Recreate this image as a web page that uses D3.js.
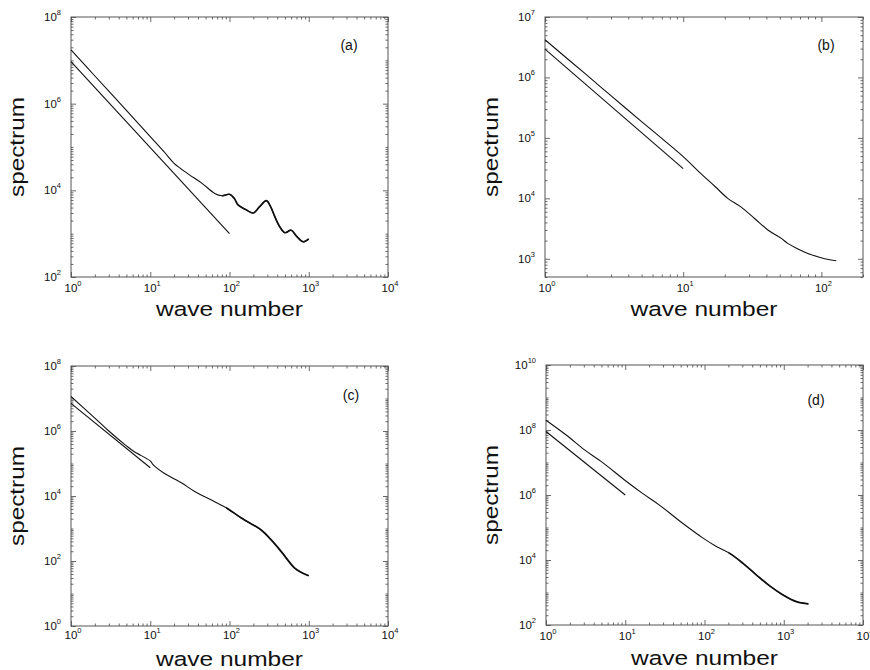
<!DOCTYPE html>
<html>
<head>
<meta charset="utf-8">
<script src="https://cdn.jsdelivr.net/npm/d3@7"></script>
<style>
  body { margin: 0; background: #fff; }
  text { font-family: "Liberation Sans", Arial, sans-serif; fill: #111; }
</style>
</head>
<body>
<script>
// ---- panel (a) ----
const waveA = [1, 2, 5, 10, 15, 20, 30, 45, 65, 80, 100, 115, 128, 160, 200, 240, 292, 330, 372, 430, 500, 600, 700, 850, 1000];
const specA = [1.74e7, 4.35e6, 7.0e5, 1.74e5, 7.7e4, 4.2e4, 2.4e4, 1.45e4, 8.5e3, 7.5e3, 8.1e3, 6.5e3, 4.6e3, 3.6e3, 3.0e3, 4.2e3, 5.8e3, 4.2e3, 2.5e3, 1.45e3, 1.05e3, 1.2e3, 880, 650, 760];
const refWaveA = [1, 100];
const refSpecA = [9.3e6, 1.0e3];
const xExpA = [0, 1, 2, 3, 4];
const yExpA = [2, 4, 6, 8];

// ---- panel (b) ----
const waveB = [1, 2, 3, 5, 7, 10, 13, 17, 21, 26, 33, 41, 51, 57, 66, 79, 98, 115, 128];
const specB = [4.2e6, 1.1e6, 5.0e5, 1.86e5, 9.8e4, 4.9e4, 2.75e4, 1.57e4, 1.0e4, 7.3e3, 4.6e3, 3.0e3, 2.2e3, 1.8e3, 1.5e3, 1.24e3, 1.05e3, 965, 930];
const refWaveB = [1, 10];
const refSpecB = [2.95e6, 3.1e4];
const xExpB = [0, 1, 2];
const yExpB = [3, 4, 5, 6, 7];

// ---- panel (c) ----
const waveC = [1, 2, 3, 5, 6.3, 10, 11, 15, 25, 36, 65, 96, 141, 251, 336, 450, 665, 810, 1000];
const specC = [1.15e7, 2.5e6, 1.0e6, 3.5e5, 2.3e5, 1.2e5, 8.9e4, 5.0e4, 2.5e4, 1.4e4, 6.7e3, 4.0e3, 2.1e3, 900, 445, 194, 60, 44, 35];
const refWaveC = [1, 10];
const refSpecC = [7.1e6, 7.4e4];
const xExpC = [0, 1, 2, 3, 4];
const yExpC = [0, 2, 4, 6, 8];

// ---- panel (d) ----
const waveD = [1, 1.8, 3.1, 5, 9.8, 16.7, 27, 53, 96, 141, 208, 306, 450, 665, 980, 1440, 2048];
const specD = [2.0e8, 7.0e7, 2.4e7, 1.06e7, 2.9e6, 1.1e6, 4.9e5, 1.35e5, 4.7e4, 2.6e4, 1.6e4, 7.9e3, 3.5e3, 1.6e3, 840, 525, 445];
const refWaveD = [1, 10];
const refSpecD = [9.0e7, 1.0e6];
const xExpD = [0, 1, 2, 3, 4];
const yExpD = [2, 4, 6, 8, 10];

const svg = d3.select("body").append("svg")
    .attr("width", 870)
    .attr("height", 670);

// layout of the four frames: [left, top, right, bottom]
const panels = [
  {tag: "(a)", wave: waveA, spec: specA, refWave: refWaveA, refSpec: refSpecA, xExp: xExpA, yExp: yExpA,
   xDom: [1, 1e4], yDom: [1e2, 1e8], box: [71, 17, 388, 277], boldFrom: 80,
   tagPos: [349, 50], xLabY: 316, yLabX: 24, tickLabY: 292},
  {tag: "(b)", wave: waveB, spec: specB, refWave: refWaveB, refSpec: refSpecB, xExp: xExpB, yExp: yExpB,
   xDom: [1, 200], yDom: [500, 1e7], box: [545, 17, 863, 277], boldFrom: null,
   tagPos: [826, 50], xLabY: 316, yLabX: 498, tickLabY: 292},
  {tag: "(c)", wave: waveC, spec: specC, refWave: refWaveC, refSpec: refSpecC, xExp: xExpC, yExp: yExpC,
   xDom: [1, 1e4], yDom: [1, 1e8], box: [71, 366, 388, 626], boldFrom: 90,
   tagPos: [351, 400], xLabY: 666, yLabX: 24, tickLabY: 639},
  {tag: "(d)", wave: waveD, spec: specD, refWave: refWaveD, refSpec: refSpecD, xExp: xExpD, yExp: yExpD,
   xDom: [1, 1e4], yDom: [1e2, 1e10], box: [546, 365, 863, 625], boldFrom: 200,
   tagPos: [816, 405], xLabY: 665, yLabX: 498, tickLabY: 640}
];

// all 1..9 x 10^e values inside a domain
function logTicks(dom) {
  const out = [];
  for (let e = Math.floor(Math.log10(dom[0])); e <= Math.ceil(Math.log10(dom[1])); e++) {
    for (let m = 1; m <= 9; m++) {
      const v = m * Math.pow(10, e);
      if (v >= dom[0] * 0.999 && v <= dom[1] * 1.001) out.push(v);
    }
  }
  return out;
}

panels.forEach(function(p, i) {
  const [x0, y0, x1, y1] = p.box;
  const x = d3.scaleLog().domain(p.xDom).range([x0, x1]);
  const y = d3.scaleLog().domain(p.yDom).range([y1, y0]);
  const g = svg.append("g");

  // ticks, inward on all four sides
  const xMajor = p.xExp.map(e => Math.pow(10, e));
  const yMajor = p.yExp.map(e => Math.pow(10, e));
  const xMinor = logTicks(p.xDom).filter(v => !xMajor.some(m => Math.abs(m - v) < 1e-9 * m));
  const yMinor = logTicks(p.yDom).filter(v => !yMajor.some(m => Math.abs(m - v) < 1e-9 * m));

  [[xMajor, 5], [xMinor, 2.5]].forEach(function([vals, len]) {
    g.append("g").attr("transform", `translate(0,${y1})`)
      .call(d3.axisBottom(x).tickValues(vals).tickSize(-len).tickFormat(""));
    g.append("g").attr("transform", `translate(0,${y0})`)
      .call(d3.axisTop(x).tickValues(vals).tickSize(-len).tickFormat(""));
  });
  [[yMajor, 5], [yMinor, 2.5]].forEach(function([vals, len]) {
    g.append("g").attr("transform", `translate(${x0},0)`)
      .call(d3.axisLeft(y).tickValues(vals).tickSize(-len).tickFormat(""));
    g.append("g").attr("transform", `translate(${x1},0)`)
      .call(d3.axisRight(y).tickValues(vals).tickSize(-len).tickFormat(""));
  });
  g.selectAll(".domain").remove();
  g.selectAll(".tick line").attr("stroke", "#444").attr("stroke-width", 0.8);

  g.append("rect")
    .attr("x", x0).attr("y", y0)
    .attr("width", x1 - x0).attr("height", y1 - y0)
    .attr("fill", "none").attr("stroke", "#555").attr("stroke-width", 1);

  // tick labels 10^n
  p.xExp.forEach(function(e) {
    const t = g.append("text")
      .attr("x", x(Math.pow(10, e)) + 2).attr("y", p.tickLabY)
      .attr("text-anchor", "middle").attr("font-size", 11.5);
    t.append("tspan").text("10");
    t.append("tspan").attr("dy", -6).attr("font-size", 7.5).text(e);
  });
  p.yExp.forEach(function(e) {
    const t = g.append("text")
      .attr("x", x0 - 10).attr("y", y(Math.pow(10, e)) + 4)
      .attr("text-anchor", "end").attr("font-size", 11.5);
    t.append("tspan").text("10");
    t.append("tspan").attr("dy", -6).attr("font-size", 7.5).text(e);
  });

  // axis titles
  g.append("text")
    .attr("x", (x0 + x1) / 2).attr("y", p.xLabY)
    .attr("text-anchor", "middle").attr("font-size", 20.5)
    .attr("textLength", 147).attr("lengthAdjust", "spacingAndGlyphs")
    .text("wave number");
  g.append("text")
    .attr("transform", `translate(${p.yLabX},${(y0 + y1) / 2}) rotate(-90)`)
    .attr("text-anchor", "middle").attr("font-size", 20.5)
    .attr("textLength", 100).attr("lengthAdjust", "spacingAndGlyphs")
    .text("spectrum");

  g.append("text")
    .attr("x", p.tagPos[0]).attr("y", p.tagPos[1])
    .attr("text-anchor", "middle").attr("font-size", 14)
    .text(p.tag);

  // curves
  const line = d3.line()
    .x(d => x(d[0]))
    .y(d => y(d[1]))
    .curve(d3.curveCatmullRom.alpha(0.5));

  const curve = p.wave.map((k, j) => [k, p.spec[j]]);
  const ref = p.refWave.map((k, j) => [k, p.refSpec[j]]);

  g.append("path").attr("d", line(ref))
    .attr("fill", "none").attr("stroke", "#111").attr("stroke-width", 1.1);
  g.append("path").attr("d", line(curve))
    .attr("fill", "none").attr("stroke", "#111").attr("stroke-width", 1.1);

  // the dense high-wavenumber tail prints heavier
  if (p.boldFrom) {
    const clipId = "tail" + i;
    svg.append("clipPath").attr("id", clipId)
      .append("rect")
      .attr("x", x(p.boldFrom)).attr("y", y0)
      .attr("width", x1 - x(p.boldFrom)).attr("height", y1 - y0);
    g.append("path").attr("d", line(curve))
      .attr("clip-path", `url(#${clipId})`)
      .attr("fill", "none").attr("stroke", "#111").attr("stroke-width", 1.7);
  }
});
</script>
</body>
</html>
